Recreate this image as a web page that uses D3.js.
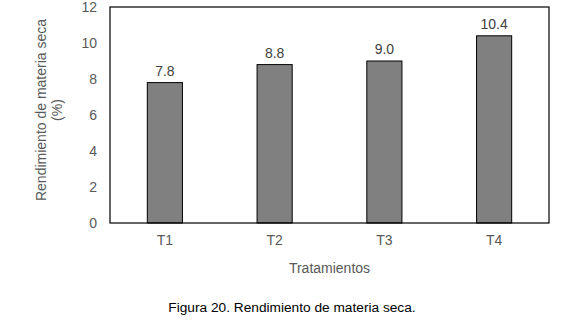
<!DOCTYPE html>
<html>
<head>
<meta charset="utf-8">
<script src="https://cdn.jsdelivr.net/npm/d3@7"></script>
<style>
  body { margin: 0; background: #fff; }
  text { font-family: "Liberation Sans", Arial, sans-serif; }
</style>
</head>
<body>
<div id="chart"></div>
<script>
// Chart data
const categories = ["T1", "T2", "T3", "T4"];
const values = [7.8, 8.8, 9.0, 10.4];
const yTicks = [0, 2, 4, 6, 8, 10, 12];

// Plot area in page pixels
const margin = { top: 7, right: 35, bottom: 103, left: 110 };
const totalW = 584, totalH = 326;
const width = totalW - margin.left - margin.right;
const height = totalH - margin.top - margin.bottom;
const fontSize = 14;

const svg = d3
  .select("#chart")
  .append("svg")
  .attr("width", totalW)
  .attr("height", totalH);

const g = svg.append("g").attr("transform", `translate(${margin.left},${margin.top})`);

const x = d3.scaleBand().domain(categories).range([0, width]).padding(0);
const y = d3.scaleLinear().domain([0, 12]).range([height, 0]);
const barW = x.bandwidth() * 0.32;

// Bars
g.selectAll("rect.bar")
  .data(values)
  .enter()
  .append("rect")
  .attr("class", "bar")
  .attr("x", (d, i) => x(categories[i]) + x.bandwidth() / 2 - barW / 2)
  .attr("y", (d) => y(d))
  .attr("width", barW)
  .attr("height", (d) => height - y(d))
  .attr("fill", "#808080")
  .attr("stroke", "#000")
  .attr("stroke-width", 1);

// Value labels
g.selectAll("text.val")
  .data(values)
  .enter()
  .append("text")
  .attr("class", "val")
  .attr("x", (d, i) => x(categories[i]) + x.bandwidth() / 2)
  .attr("y", (d) => y(d) - 7)
  .attr("text-anchor", "middle")
  .attr("font-size", fontSize)
  .attr("fill", "#404040")
  .text((d) => d.toFixed(1));

// Frame
g.append("rect")
  .attr("width", width)
  .attr("height", height)
  .attr("fill", "none")
  .attr("stroke", "#000")
  .attr("stroke-width", 1.2);

// Y axis (labels only)
const yAxis = g.append("g")
  .call(d3.axisLeft(y).tickValues(yTicks).tickSize(0).tickPadding(13).tickFormat(d3.format("d")));
yAxis.select(".domain").remove();
yAxis.selectAll("text").attr("font-size", fontSize).attr("fill", "#595959").style("font-family", "Liberation Sans, Arial, sans-serif");

// X axis (labels only)
const xAxis = g.append("g")
  .attr("transform", `translate(0,${height})`)
  .call(d3.axisBottom(x).tickSize(0).tickPadding(12));
xAxis.select(".domain").remove();
xAxis.selectAll("text").attr("font-size", fontSize).attr("fill", "#595959").style("font-family", "Liberation Sans, Arial, sans-serif");

// Axis titles
g.append("text")
  .attr("x", width / 2)
  .attr("y", height + 50)
  .attr("text-anchor", "middle")
  .attr("font-size", fontSize)
  .attr("fill", "#595959")
  .text("Tratamientos");

const yTitle = g.append("text")
  .attr("transform", `translate(${-64},${height / 2 - 5}) rotate(-90)`)
  .attr("text-anchor", "middle")
  .attr("font-size", fontSize)
  .attr("fill", "#595959");
yTitle.append("tspan").attr("x", 0).attr("dy", 0).text("Rendimiento de materia seca");
yTitle.append("tspan").attr("x", 0).attr("dy", 16).text("(%)");

// Caption
svg.append("text")
  .attr("x", totalW / 2)
  .attr("y", 312)
  .attr("text-anchor", "middle")
  .attr("font-size", 13.7)
  .attr("fill", "#000")
  .text("Figura 20. Rendimiento de materia seca.");
</script>
</body>
</html>
